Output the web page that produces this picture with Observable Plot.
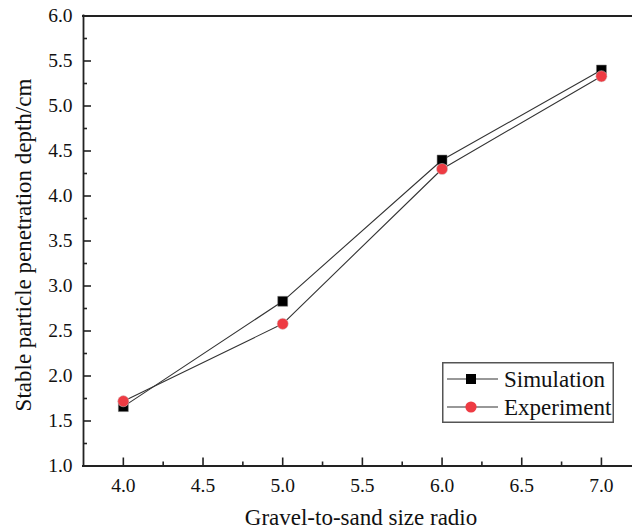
<!DOCTYPE html>
<html>
<head>
<meta charset="utf-8">
<script src="https://cdn.jsdelivr.net/npm/d3@7"></script>
<script src="https://cdn.jsdelivr.net/npm/@observablehq/plot@0.6"></script>
<style>
  html, body { margin: 0; padding: 0; background: #fff; }
  #chart { position: relative; width: 632px; height: 531px; }
  #legend { position: absolute; left: 442px; top: 362px; }
</style>
</head>
<body>
<div id="chart"></div>
<script>
// Gravel-to-sand size ratio on the x axis
const ratios = [4.0, 5.0, 6.0, 7.0];
// Stable particle penetration depth (cm)
const simulation = [1.66, 2.83, 4.40, 5.40];
const experiment = [1.72, 2.58, 4.30, 5.33];

const xMajor = [4.0, 4.5, 5.0, 5.5, 6.0, 6.5, 7.0];
const xMinor = [4.25, 4.75, 5.25, 5.75, 6.25, 6.75];
const yMajor = [1.0, 1.5, 2.0, 2.5, 3.0, 3.5, 4.0, 4.5, 5.0, 5.5, 6.0];
const yMinor = [1.25, 1.75, 2.25, 2.75, 3.25, 3.75, 4.25, 4.75, 5.25, 5.75];

const xTitle = "Gravel-to-sand size radio";
const yTitle = "Stable particle penetration depth/cm";
const seriesNames = ["Simulation", "Experiment"];

const W = 632, H = 531;
const mTop = 15.5, mBottom = 65.5, mLeft = 83, mRight = 0;
const innerW = W - mLeft - mRight, innerH = H - mTop - mBottom;

const simRows = ratios.map((r, i) => ({ratio: r, depth: simulation[i]}));
const expRows = ratios.map((r, i) => ({ratio: r, depth: experiment[i]}));

const axisColor = "#222";
const lineColor = "#333";
const red = "#ee3b43";
const serif = "'Liberation Serif', 'Times New Roman', serif";

const chart = Plot.plot({
  width: W,
  height: H,
  marginTop: mTop,
  marginBottom: mBottom,
  marginLeft: mLeft,
  marginRight: mRight,
  style: {fontFamily: serif, fontSize: "19.5px", color: "#111", background: "#fff", overflow: "visible"},
  x: {domain: [3.75, 7.195]},
  y: {domain: [1, 6]},
  marks: [
    // tick labels
    Plot.axisX(xMajor, {tickSize: 0, tickPadding: 12, tickFormat: d3.format(".1f"), label: null, fill: "#111"}),
    Plot.axisY(yMajor, {tickSize: 0, tickPadding: 11, tickFormat: d3.format(".1f"), label: null, fill: "#111"}),
    // inward tick marks
    Plot.tickX(xMajor, {x: d => d, insetTop: innerH - 8, stroke: axisColor, strokeWidth: 1.6}),
    Plot.tickX(xMinor, {x: d => d, insetTop: innerH - 4, stroke: axisColor, strokeWidth: 1.6}),
    Plot.tickY(yMajor, {y: d => d, insetRight: innerW - 8, stroke: axisColor, strokeWidth: 1.6}),
    Plot.tickY(yMinor, {y: d => d, insetRight: innerW - 4, stroke: axisColor, strokeWidth: 1.6}),
    // frame lines (bottom, top, left)
    Plot.ruleY([1], {stroke: axisColor, strokeWidth: 1.8, insetLeft: -1}),
    Plot.ruleY([6], {stroke: axisColor, strokeWidth: 1.8, insetLeft: -1}),
    Plot.ruleX([3.75], {stroke: axisColor, strokeWidth: 1.8, insetTop: -1, insetBottom: -1}),
    // series lines
    Plot.line(simRows, {x: "ratio", y: "depth", stroke: lineColor, strokeWidth: 1.1}),
    Plot.line(expRows, {x: "ratio", y: "depth", stroke: lineColor, strokeWidth: 1.1}),
    // markers
    Plot.dot(simRows, {x: "ratio", y: "depth", symbol: "square", r: 5.6, fill: "#000", stroke: "#777", strokeWidth: 0.5}),
    Plot.dot(expRows, {x: "ratio", y: "depth", symbol: "circle", r: 5.6, fill: red, stroke: "#d0d0d0", strokeWidth: 0.5}),
    // axis titles
    Plot.text([xTitle], {frameAnchor: "bottom", text: d => d, dy: 51.5, dx: 3, fontSize: 23, textAnchor: "middle", lineAnchor: "middle", fill: "#111"}),
    Plot.text([yTitle], {frameAnchor: "left", text: d => d, dx: -60, dy: 4, rotate: -90, fontSize: 23, textAnchor: "middle", lineAnchor: "middle", fill: "#111"})
  ]
});

const host = document.getElementById("chart");
host.appendChild(chart);

// Legend box
const legW = 172, legH = 61;
const leg = d3.select(host).append("svg")
  .attr("id", "legend")
  .attr("width", legW)
  .attr("height", legH);
leg.append("rect")
  .attr("x", 0.75).attr("y", 0.75)
  .attr("width", legW - 1.5).attr("height", legH - 1.5)
  .attr("fill", "#fff").attr("stroke", "#555").attr("stroke-width", 1.5);
const rowY = [17, 45];
seriesNames.forEach((name, i) => {
  const g = leg.append("g").attr("transform", `translate(0,${rowY[i]})`);
  g.append("line").attr("x1", 5).attr("x2", 56).attr("y1", 0).attr("y2", 0)
    .attr("stroke", lineColor).attr("stroke-width", 1.1);
  if (i === 0) {
    g.append("rect").attr("x", 29 - 5).attr("y", -5).attr("width", 10).attr("height", 10).attr("fill", "#000");
  } else {
    g.append("circle").attr("cx", 29).attr("cy", 0).attr("r", 5.6).attr("fill", red);
  }
  g.append("text").attr("x", 62).attr("y", 0).attr("dy", "0.34em")
    .attr("font-family", serif)
    .attr("font-size", 23).attr("fill", "#111")
    .text(name);
});
</script>
</body>
</html>
